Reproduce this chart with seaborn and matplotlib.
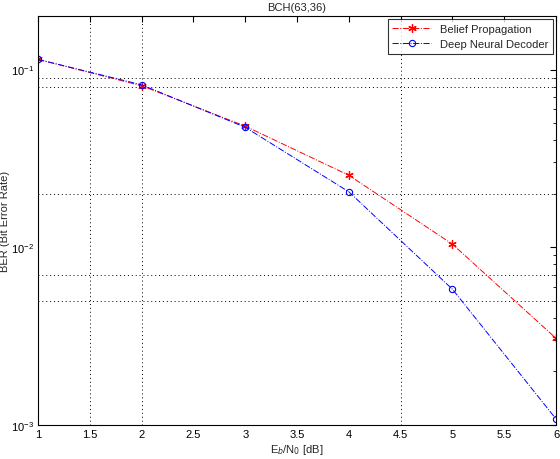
import numpy as np
import pandas as pd
import matplotlib
matplotlib.use("Agg")
import matplotlib.pyplot as plt
import seaborn as sns

# values (BER on log scale)
snr_db = [1, 2, 3, 4, 5, 6]
ber_bp = [0.114, 0.081, 0.048, 0.0254, 0.0104, 0.00307]
ber_dnn = [0.114, 0.082, 0.0473, 0.0205, 0.0058, 0.00108]
series_names = ["Belief Propagation", "Deep Neural Decoder"]

# grid lines that are visible in the reference
grid_x = [1.5, 2, 4.5]
grid_y = [0.09, 0.08, 0.02, 0.007, 0.005]

sns.set_style("white")
plt.rcParams['font.family'] = ['Liberation Sans', 'DejaVu Sans']
plt.rcParams['font.size'] = 8

df = pd.DataFrame({
    "snr": snr_db * 2,
    "ber": ber_bp + ber_dnn,
    "decoder": [series_names[0]] * len(snr_db) + [series_names[1]] * len(snr_db),
})

fig = plt.figure(figsize=(5.6, 4.6), dpi=100)
ax = fig.add_axes([0.068, 0.074, 0.925, 0.889])

sns.lineplot(data=df[df.decoder == series_names[0]], x="snr", y="ber", ax=ax,
             color="red", linestyle="-.", linewidth=0.7, marker=(6, 2, 0),
             markersize=6, markeredgewidth=0.9, markeredgecolor="red",
             label=series_names[0])
sns.lineplot(data=df[df.decoder == series_names[1]], x="snr", y="ber", ax=ax,
             color="blue", linestyle="-.", linewidth=0.7, marker="o",
             markersize=4.5, markeredgewidth=0.8, markerfacecolor="none",
             markeredgecolor="blue", label=series_names[1])

ax.set_yscale("log")
ax.set_xlim(1, 6)
ax.set_ylim(1e-3, 0.2)
ax.set_xticks(np.arange(1, 6.01, 0.5))
ax.set_xticklabels(["1", "1.5", "2", "2.5", "3", "3.5", "4", "4.5", "5", "5.5", "6"])

for gx in grid_x:
    ax.axvline(gx, color="black", linestyle=(0, (1, 3)), linewidth=0.7, zorder=0)
for gy in grid_y:
    ax.axhline(gy, color="black", linestyle=(0, (1, 3)), linewidth=0.7, zorder=0)

ax.tick_params(which="both", direction="in", top=True, right=True,
               labelsize=8, colors="black")
ax.tick_params(which="major", length=4, pad=3)
ax.tick_params(which="minor", length=2)
for s in ax.spines.values():
    s.set_color("black")
    s.set_linewidth(0.8)

ax.set_title("BCH(63,36)", fontsize=8, pad=4)
ax.set_xlabel(r"E$_b$/N$_0$ [dB]", fontsize=8, labelpad=2)
ax.set_ylabel("BER (Bit Error Rate)", fontsize=8)
ax.yaxis.set_label_coords(-0.054, 0.5)

leg = ax.legend(loc="upper right", fontsize=8, frameon=True, fancybox=False,
                borderaxespad=0.3, handlelength=3.5)
leg.get_frame().set_edgecolor("black")
leg.get_frame().set_linewidth(0.8)

fig.savefig("out.png", dpi=100)
